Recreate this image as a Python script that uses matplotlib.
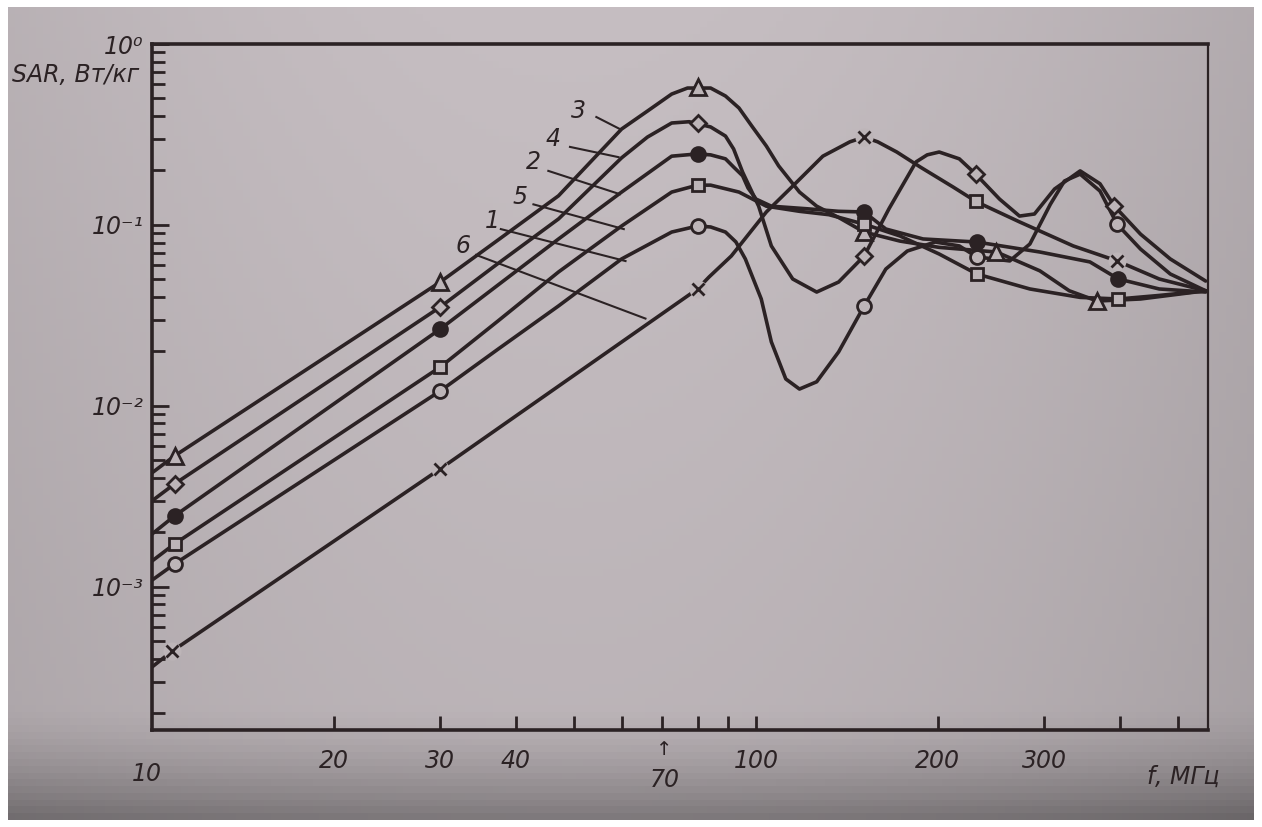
import numpy as np
import matplotlib
matplotlib.use("Agg")
import matplotlib.pyplot as plt

plt.rcParams['font.family'] = ['DejaVu Sans']
plt.rcParams['font.style'] = 'italic'

INK = '#2b2224'
PAPER = '#bdb5b8'

# --- curve traces (f in MHz, SAR in W/kg) ---
f3 = [10, 10.9, 30, 37.4, 47.1, 59.9, 66.1, 72.5, 77.0, 84.1, 89, 93.7, 98.4, 104, 109, 118,
      126, 137, 151, 173, 201, 250, 295, 330, 367, 433, 555]
s3 = [0.00427, 0.0053, 0.0484, 0.0826, 0.145, 0.339, 0.426, 0.529, 0.571, 0.571, 0.516,
      0.443, 0.352, 0.273, 0.212, 0.152, 0.127, 0.110, 0.0914, 0.0815, 0.0752, 0.0709,
      0.0558, 0.0433, 0.038, 0.039, 0.0433]

f4 = [10, 10.9, 30, 37.4, 47.1, 59.9, 66.1, 72.5, 77.5, 84.1, 89, 91.8, 95, 101, 106, 115,
      126, 137, 151, 166, 184, 192, 201, 217, 231, 253, 273, 289, 312, 344, 371, 392, 433,
      485, 555]
s4 = [0.00299, 0.00371, 0.0352, 0.0613, 0.108, 0.235, 0.306, 0.366, 0.372, 0.348, 0.310,
      0.263, 0.196, 0.127, 0.0766, 0.0503, 0.0426, 0.0484, 0.0674, 0.123, 0.223, 0.244,
      0.253, 0.232, 0.191, 0.139, 0.112, 0.115, 0.158, 0.199, 0.169, 0.127, 0.089, 0.0649,
      0.049]

f2 = [10, 10.9, 30, 37.4, 47.1, 59.9, 72.5, 80, 84.1, 89, 91.8, 95, 97, 100, 106, 121, 137,
      151, 164, 189, 232, 295, 357, 398, 465, 555]
s2 = [0.00196, 0.00247, 0.0266, 0.0466, 0.0837, 0.152, 0.240, 0.247, 0.244, 0.232, 0.209,
      0.187, 0.160, 0.139, 0.127, 0.123, 0.119, 0.118, 0.095, 0.0837, 0.0805, 0.0709,
      0.0625, 0.0503, 0.0443, 0.0426]

f5 = [10, 10.9, 30, 37.4, 47.1, 59.9, 72.5, 80, 84.1, 93.7, 104, 118, 132, 151, 173, 201,
      232, 284, 344, 398, 465, 555]
s5 = [0.00139, 0.00173, 0.0164, 0.0295, 0.055, 0.0987, 0.152, 0.166, 0.166, 0.152, 0.127,
      0.119, 0.114, 0.101, 0.087, 0.0691, 0.0536, 0.0443, 0.0398, 0.039, 0.0408, 0.0433]

f1 = [10, 10.9, 30, 37.4, 47.1, 59.9, 72.5, 80, 84.1, 89, 92.6, 96, 102, 106, 112, 118, 126,
      137, 151, 164, 178, 198, 217, 232, 263, 284, 307, 324, 344, 371, 396, 433, 485, 555]
s1 = [0.00109, 0.00134, 0.0121, 0.0206, 0.0357, 0.0649, 0.0914, 0.0987, 0.0975, 0.0914,
      0.0806, 0.0649, 0.039, 0.0226, 0.0141, 0.0124, 0.0136, 0.0199, 0.0357, 0.0571, 0.0718,
      0.0805, 0.0766, 0.0666, 0.0633, 0.0785, 0.130, 0.175, 0.191, 0.154, 0.101, 0.0736,
      0.0536, 0.0433]

f6 = [10, 10.8, 30, 80, 83.6, 91, 104, 115, 129, 143, 151, 159, 171, 187, 212, 232, 273,
      335, 396, 465, 555]
s6 = [0.000361, 0.000442, 0.00449, 0.0443, 0.0516, 0.0674, 0.118, 0.164, 0.240, 0.288,
      0.306, 0.288, 0.253, 0.209, 0.162, 0.134, 0.104, 0.0766, 0.0633, 0.0503, 0.0433]

# --- measured points (markers) ---
m3_f = [10.9, 30, 80, 151, 250, 367]
m3_s = [0.0053, 0.0484, 0.578, 0.0914, 0.0709, 0.038]
m4_f = [10.9, 30, 80, 151, 231, 392]
m4_s = [0.00371, 0.0352, 0.366, 0.0674, 0.191, 0.127]
m2_f = [10.9, 30, 80, 151, 232, 398]
m2_s = [0.00247, 0.0266, 0.247, 0.118, 0.0805, 0.0503]
m5_f = [10.9, 30, 80, 151, 231, 232, 398]
m5_s = [0.00173, 0.0164, 0.166, 0.101, 0.136, 0.0536, 0.039]
m1_f = [10.9, 30, 80, 151, 232, 396]
m1_s = [0.00134, 0.0121, 0.0987, 0.0357, 0.0666, 0.101]
m6_f = [10.8, 30, 80, 151, 396]
m6_s = [0.000442, 0.00449, 0.0443, 0.306, 0.0633]

# curve numbers and leader lines
lab_text = ['3', '4', '2', '5', '1', '6']
lab_f = [50.8, 46.2, 42.8, 40.7, 36.6, 32.7]
lab_s = [0.426, 0.299, 0.223, 0.143, 0.105, 0.0766]
lead_f0 = [54.4, 49.2, 45.3, 42.8, 37.8, 34.4]
lead_s0 = [0.395, 0.270, 0.199, 0.130, 0.0949, 0.0683]
lead_f1 = [59.5, 59.2, 59.5, 60.4, 60.8, 65.6]
lead_s1 = [0.339, 0.237, 0.148, 0.0949, 0.0632, 0.0304]

fig = plt.figure(figsize=(12.62, 8.27), dpi=100, facecolor='white')

# photographed page background
bg = fig.add_axes([8 / 1262, 7 / 827, 1246 / 1262, 813 / 827])
yy, xx = np.mgrid[0:1:120j, 0:1:180j]
shade = (0.10 * ((xx - 0.45) / 0.55) ** 2 + 0.06 * yy
         + 0.30 * np.clip((yy - 0.86) / 0.14, 0, 1) ** 1.5)
base = np.array([198, 190, 194]) / 255
img = np.clip(base[None, None, :] * (1 - shade[:, :, None]), 0, 1)
bg.imshow(img, aspect='auto', extent=[0, 1, 0, 1], origin='upper')
bg.axis('off')

ax = fig.add_axes([152 / 1262, 1 - 730 / 827, 1056 / 1262, 686 / 827])
ax.set_facecolor('none')
ax.set_xscale('log')
ax.set_yscale('log')
ax.set_xlim(10, 560)
ax.set_ylim(1.62e-4, 1.0)

curves = [(f3, s3), (f4, s4), (f2, s2), (f5, s5), (f1, s1), (f6, s6)]
for fx, sy in curves:
    ax.plot(fx, sy, color=INK, lw=2.6, solid_capstyle='round', solid_joinstyle='round',
            zorder=3)

ax.plot(m3_f, m3_s, ls='none', marker='^', ms=11, mfc=PAPER, mec=INK, mew=2, zorder=4)
ax.plot(m4_f, m4_s, ls='none', marker='D', ms=8.5, mfc=PAPER, mec=INK, mew=2, zorder=4)
ax.plot(m2_f, m2_s, ls='none', marker='o', ms=10, mfc=INK, mec=INK, mew=2, zorder=4)
ax.plot(m5_f, m5_s, ls='none', marker='s', ms=9, mfc=PAPER, mec=INK, mew=2, zorder=4)
ax.plot(m1_f, m1_s, ls='none', marker='o', ms=10, mfc=PAPER, mec=INK, mew=2, zorder=4)
ax.plot(m6_f, m6_s, ls='none', marker='o', ms=13, mfc=PAPER, mec='none', zorder=4)
ax.plot(m6_f, m6_s, ls='none', marker='x', ms=9, mec=INK, mew=2, zorder=5)

for i in range(len(lab_text)):
    ax.plot([lead_f0[i], lead_f1[i]], [lead_s0[i], lead_s1[i]], color=INK, lw=1.5, zorder=2)
    ax.text(lab_f[i], lab_s[i], lab_text[i], fontsize=17, color=INK, ha='center', va='center')

# axes frame
for side in ['left', 'bottom', 'top']:
    ax.spines[side].set_linewidth(2.6)
    ax.spines[side].set_color(INK)
ax.spines['right'].set_linewidth(1.6)
ax.spines['right'].set_color(INK)

ax.set_yticks([1e-3, 1e-2, 1e-1, 1], labels=['10⁻³', '10⁻²', '10⁻¹', '10⁰'])
ax.tick_params(axis='y', which='major', direction='in', length=12, width=2,
               color=INK, labelsize=17, labelcolor=INK, pad=6)
ax.tick_params(axis='y', which='minor', direction='in', length=9, width=2, color=INK)

xt = [20, 30, 40, 50, 60, 70, 80, 90, 100, 200, 300, 400, 500]
xl = ['20', '30', '40', '', '', '', '', '', '100', '200', '300', '', '']
ax.set_xticks(xt, labels=xl)
ax.xaxis.set_minor_locator(matplotlib.ticker.NullLocator())
ax.tick_params(axis='x', which='major', direction='in', length=10, width=2,
               color=INK, labelsize=17, labelcolor=INK, pad=14)

ax.annotate('10', xy=(10, 0), xycoords=('data', 'axes fraction'), xytext=(-4, -32),
            textcoords='offset points', ha='center', va='center', fontsize=17, color=INK)
ax.annotate('↑', xy=(70, 0), xycoords=('data', 'axes fraction'), xytext=(1, -14),
            textcoords='offset points', ha='center', va='center', fontsize=14, color=INK)
ax.annotate('70', xy=(70, 0), xycoords=('data', 'axes fraction'), xytext=(2, -36),
            textcoords='offset points', ha='center', va='center', fontsize=17, color=INK)

fig.text(12 / 1262, 1 - 75 / 827, 'SAR, Вт/кг', fontsize=17, color=INK, ha='left', va='center')
fig.text(1183 / 1262, 1 - 777 / 827, 'f, МГц', fontsize=17, color=INK, ha='center', va='center')

fig.savefig('out.png', dpi=100, facecolor='white')
